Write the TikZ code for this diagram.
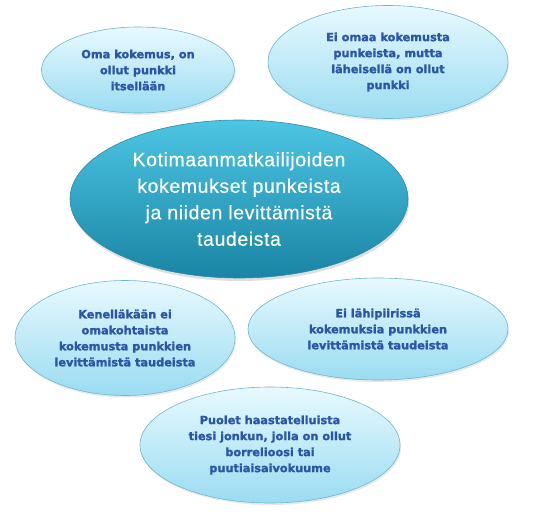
\documentclass[tikz,border=0pt]{standalone}
\usepackage{fontspec}
\setmainfont{Liberation Sans}
\newfontfamily\heavyfont[FakeBold=1.6]{DejaVu Sans}
\usetikzlibrary{shapes.geometric,shadows}
\definecolor{leaftop}{HTML}{E8F9FE}
\definecolor{leafbot}{HTML}{9ADCF1}
\definecolor{leafline}{HTML}{6FB6CC}
\definecolor{leaftext}{HTML}{2B55A6}
\definecolor{hubtop}{HTML}{4CC6E3}
\definecolor{hubbot}{HTML}{1A84A4}
\definecolor{hubline}{HTML}{2A8BA6}
\begin{document}
\begin{tikzpicture}[x=1pt,y=-1pt,
  leaf/.style={ellipse,draw=leafline,line width=0.6pt,top color=leaftop,bottom color=leafbot,
    drop shadow={opacity=0.18,shadow xshift=1pt,shadow yshift=-2pt},
    inner sep=0pt,align=center,text=leaftext,
    font=\heavyfont\bfseries\fontsize{11.3}{16}\selectfont},
  hub/.style={ellipse,draw=hubline,line width=0.6pt,top color=hubtop,bottom color=hubbot,
    drop shadow={opacity=0.25,shadow xshift=1pt,shadow yshift=-3pt},
    inner sep=0pt,align=center,text=white,
    font=\fontsize{19.5}{26.5}\selectfont\addfontfeature{LetterSpace=3,FakeBold=0.4}}]
\useasboundingbox (0,0) rectangle (533,514);
\node[hub,minimum width=338pt,minimum height=158pt] (hub) at (239,199)
  {Kotimaanmatkailijoiden\\kokemukset punkeista\\ja niiden levittämistä\\taudeista};
\node[leaf,minimum width=193pt,minimum height=86pt] (own) at (138,70)
  {Oma kokemus, on\\ollut punkki\\itsellään};
\node[leaf,minimum width=240pt,minimum height=113pt] (near) at (388,62)
  {Ei omaa kokemusta\\punkeista, mutta\\läheisellä on ollut\\punkki};
\node[leaf,minimum width=220pt,minimum height=115pt] (none) at (125,338)
  {Kenelläkään ei\\omakohtaista\\kokemusta punkkien\\levittämistä taudeista};
\node[leaf,minimum width=260pt,minimum height=102pt] (circle) at (378,329)
  {Ei lähipiirissä\\kokemuksia punkkien\\levittämistä taudeista};
\node[leaf,minimum width=260pt,minimum height=116pt] (half) at (270,445)
  {Puolet haastatelluista\\tiesi jonkun, jolla on ollut\\borrelioosi tai\\puutiaisaivokuume};
\end{tikzpicture}
\end{document}
